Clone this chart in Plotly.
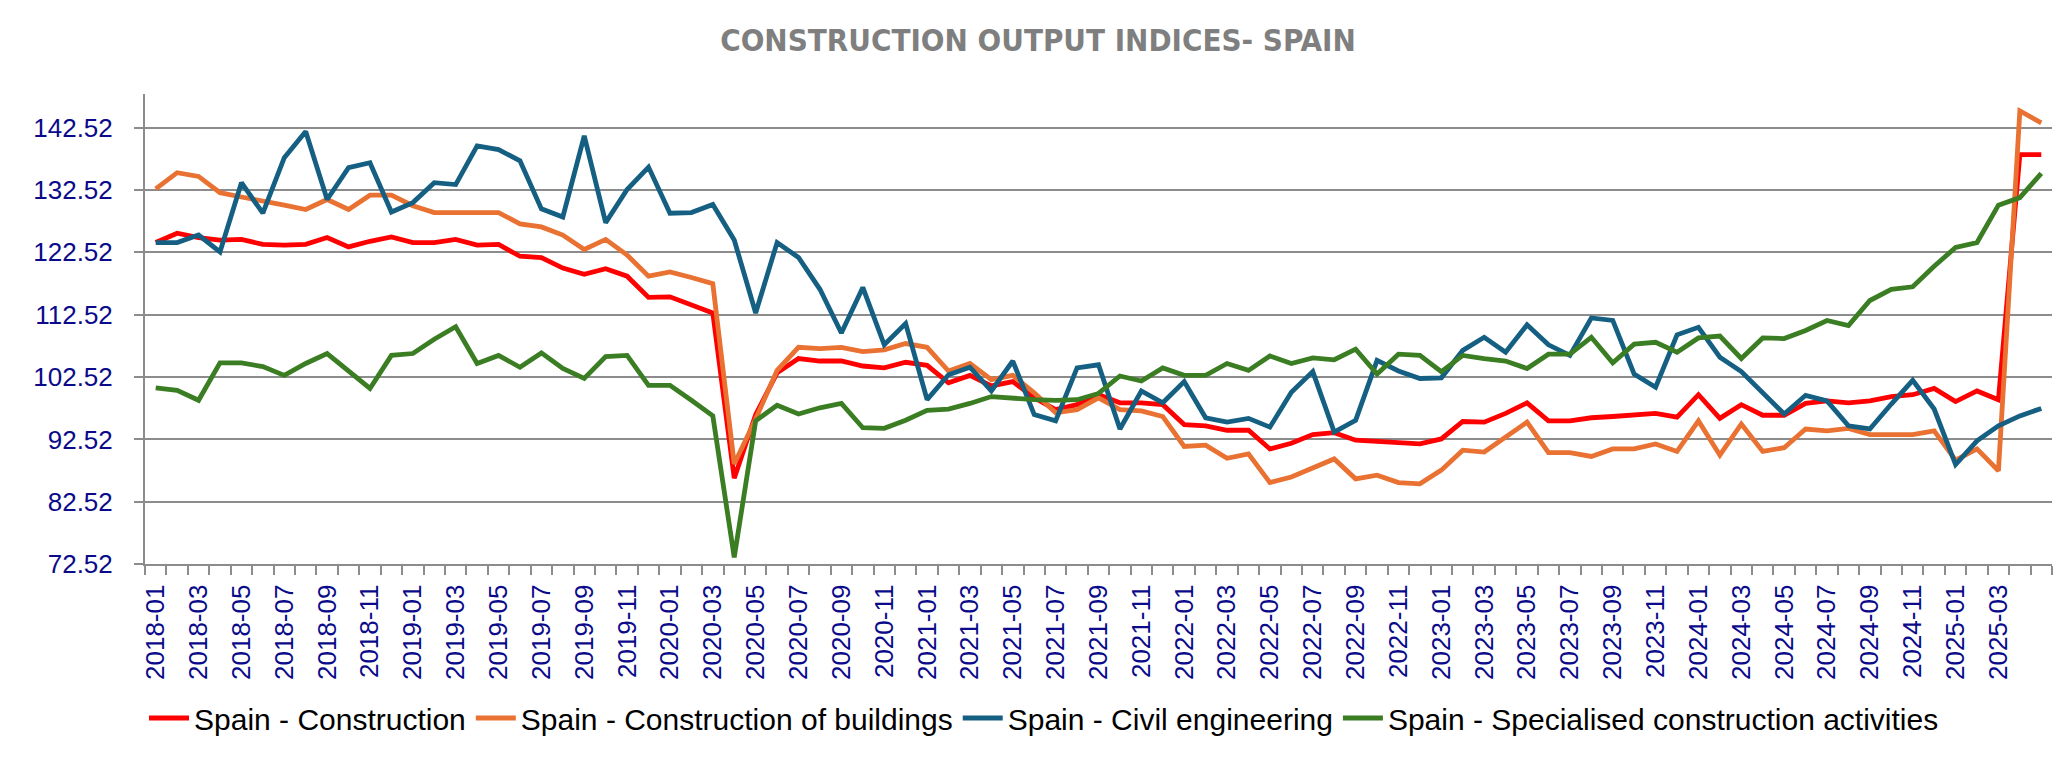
import plotly.graph_objects as go

months = [f"{y}-{m:02d}" for y in range(2018, 2026) for m in range(1, 13)][:89]

construction = [
    124.1, 125.6, 124.9, 124.5, 124.6, 123.8, 123.7, 123.8, 124.9, 123.4, 124.3, 125.0,
    124.1, 124.1, 124.6, 123.7, 123.8, 121.9, 121.7, 120.0, 119.0, 119.9, 118.7, 115.3,
    115.4, 114.0, 112.8, 86.3, 96.5, 103.2, 105.5, 105.1, 105.1, 104.3, 104.0, 104.9,
    104.4, 101.6, 102.8, 101.1, 101.8, 99.2, 97.3, 98.1, 99.7, 98.4, 98.4, 98.1,
    94.9, 94.7, 94.0, 94.0, 91.0, 91.9, 93.3, 93.6, 92.4, 92.2, 92.0, 91.8,
    92.6, 95.4, 95.3, 96.7, 98.4, 95.5, 95.5, 96.0, 96.2, 96.4, 96.7, 96.1,
    99.7, 95.9, 98.1, 96.4, 96.4, 98.3, 98.7, 98.4, 98.7, 99.4, 99.7, 100.7,
    98.6, 100.3, 98.9, 138.2, 138.2,
]

buildings = [
    132.7, 135.3, 134.7, 132.1, 131.4, 130.8, 130.1, 129.4, 131.0, 129.4, 131.7, 131.7,
    130.0, 128.9, 128.9, 128.9, 128.9, 127.1, 126.6, 125.3, 123.0, 124.6, 122.1, 118.7,
    119.4, 118.5, 117.5, 88.6, 95.8, 103.6, 107.3, 107.1, 107.3, 106.6, 106.9, 107.9,
    107.3, 103.5, 104.7, 102.1, 102.8, 100.0, 96.8, 97.3, 99.2, 97.3, 97.1, 96.2,
    91.4, 91.6, 89.5, 90.2, 85.6, 86.5, 88.0, 89.4, 86.2, 86.8, 85.6, 85.4,
    87.6, 90.8, 90.5, 92.9, 95.3, 90.4, 90.4, 89.8, 91.0, 91.0, 91.8, 90.6,
    95.5, 90.0, 95.0, 90.6, 91.2, 94.2, 93.9, 94.3, 93.3, 93.3, 93.3, 93.9,
    89.2, 91.0, 87.5, 145.2, 143.3,
]

civil = [
    124.1, 124.1, 125.3, 122.6, 133.7, 128.8, 137.7, 141.9, 131.0, 136.1, 136.9, 129.0,
    130.5, 133.7, 133.4, 139.6, 139.0, 137.2, 129.5, 128.2, 141.2, 127.3, 132.6, 136.2,
    128.8, 128.9, 130.2, 124.5, 112.8, 124.1, 121.7, 116.6, 109.6, 116.9, 107.7, 111.1,
    98.9, 102.9, 104.1, 100.3, 105.1, 96.5, 95.5, 104.0, 104.5, 94.2, 100.3, 98.4,
    101.8, 96.0, 95.3, 95.9, 94.5, 100.1, 103.4, 93.7, 95.6, 105.2, 103.5, 102.3,
    102.4, 106.8, 108.9, 106.5, 110.9, 107.7, 106.0, 112.0, 111.6, 103.0, 100.9, 109.3,
    110.5, 105.7, 103.4, 100.1, 96.6, 99.6, 98.7, 94.7, 94.2, 98.2, 102.0, 97.4,
    88.5, 92.3, 94.7, 96.3, 97.5,
]

specialised = [
    100.8, 100.4, 98.8, 104.8, 104.8, 104.2, 102.8, 104.7, 106.3, 103.5, 100.7, 106.0,
    106.3, 108.6, 110.6, 104.7, 106.0, 104.1, 106.4, 103.9, 102.3, 105.8, 106.0, 101.2,
    101.2, 98.8, 96.3, 73.6, 95.5, 98.0, 96.6, 97.6, 98.3, 94.4, 94.3, 95.6,
    97.2, 97.4, 98.3, 99.4, 99.1, 98.9, 98.8, 98.9, 99.9, 102.7, 101.9, 104.0,
    102.8, 102.8, 104.7, 103.6, 105.9, 104.7, 105.6, 105.3, 107.0, 103.0, 106.2, 106.0,
    103.4, 106.0, 105.5, 105.1, 103.9, 106.2, 106.2, 108.9, 104.8, 107.8, 108.1, 106.5,
    108.8, 109.1, 105.5, 108.8, 108.7, 110.0, 111.6, 110.8, 114.8, 116.6, 117.0, 120.3,
    123.3, 124.1, 130.1, 131.3, 135.2,
]

series_names = [
    "Spain - Construction",
    "Spain - Construction of buildings",
    "Spain - Civil engineering",
    "Spain - Specialised construction activities",
]
series_values = [construction, buildings, civil, specialised]
series_colors = ["#FF0000", "#E97132", "#156082", "#3B7D23"]

y_ticks = [72.52, 82.52, 92.52, 102.52, 112.52, 122.52, 132.52, 142.52]
# labels every second month; the last month (2025-05) carries no label in the original
x_ticktext = [m if (i % 2 == 0 and i < len(months) - 1) else "" for i, m in enumerate(months)]

fig = go.Figure()
for name, vals, col in zip(series_names, series_values, series_colors):
    fig.add_trace(go.Scatter(
        x=months, y=vals, name=name, mode="lines",
        line=dict(color=col, width=4.8),
    ))

tick_font = dict(family="Liberation Sans, Arial, sans-serif", size=26, color="#0A0A8A")

fig.update_layout(
    width=2067, height=759, autosize=False,
    margin=dict(l=137, r=23, t=86, b=196),
    paper_bgcolor="white", plot_bgcolor="white",
    title=dict(
        text="<b>CONSTRUCTION OUTPUT INDICES- SPAIN</b>",
        font=dict(family="Liberation Sans Narrow, Arial Narrow, DejaVu Sans Condensed, sans-serif",
                  size=31, color="#7F7F7F"),
        x=1030 / 2067, xref="container", xanchor="center",
        y=1 - 32 / 759, yref="container", yanchor="middle",
    ),
    showlegend=True,
    legend=dict(
        orientation="h", xref="container", yref="container",
        x=1036 / 2067, xanchor="center", y=1 - 710 / 759, yanchor="middle",
        font=dict(family="Liberation Sans, Arial, sans-serif", size=30, color="#000000"),
        itemwidth=40, traceorder="normal",
    ),
    xaxis=dict(
        type="category", categoryorder="array", categoryarray=months,
        range=[-0.5, len(months) - 0.5],
        tickmode="array", tickvals=months, ticktext=x_ticktext,
        tickangle=-90, tickson="boundaries",
        ticks="outside", ticklen=9, tickwidth=2, tickcolor="#8C8C8C",
        showline=True, linecolor="#8C8C8C", linewidth=2,
        showgrid=False, zeroline=False,
        tickfont=tick_font, ticklabelstandoff=8,
    ),
    yaxis=dict(
        range=[72.52, 147.92],
        tickmode="array", tickvals=y_ticks, ticktext=[f"{v:.2f}" for v in y_ticks],
        ticks="outside", ticklen=9, tickwidth=2, tickcolor="#8C8C8C",
        showline=True, linecolor="#8C8C8C", linewidth=2,
        showgrid=True, gridcolor="#8C8C8C", gridwidth=2,
        zeroline=False,
        tickfont=tick_font, ticklabelstandoff=16,
    ),
)

fig.write_html("out.html")
